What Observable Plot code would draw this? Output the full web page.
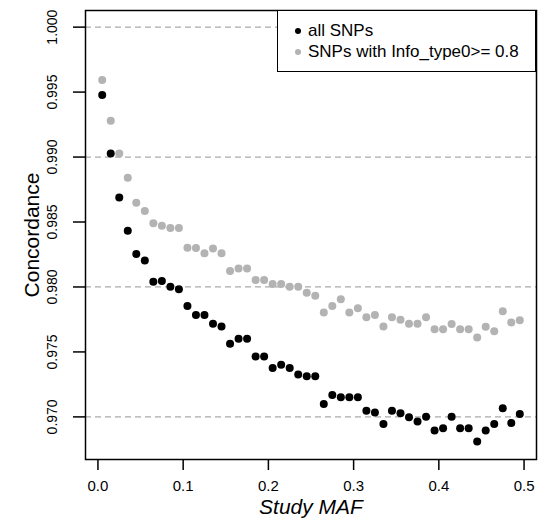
<!DOCTYPE html>
<html>
<head>
<meta charset="utf-8">
<script src="https://cdn.jsdelivr.net/npm/d3@7"></script>
<script src="https://cdn.jsdelivr.net/npm/@observablehq/plot@0.6"></script>
<style>
  body { margin: 0; background: #fff; font-family: "Liberation Sans", Arial, sans-serif; }
  #wrap { position: relative; width: 548px; height: 523px; }
  #legend { position: absolute; left: 277px; top: 10px; width: 259px; height: 62px; box-sizing: border-box;
            border: 1.5px solid #000; background: #fff; font-size: 17px; color: #000; }
  #legend .dot { position: absolute; width: 6px; height: 6px; border-radius: 50%; left: 17px; }
  #legend .lab { position: absolute; left: 30px; line-height: 18px; white-space: nowrap; }
</style>
</head>
<body>
<div id="wrap"><div id="chart"></div><div id="legend"></div></div>
<script>
// Bin centres of Study MAF
const maf = [0.005,0.015,0.025,0.035,0.045,0.055,0.065,0.075,0.085,0.095,
             0.105,0.115,0.125,0.135,0.145,0.155,0.165,0.175,0.185,0.195,
             0.205,0.215,0.225,0.235,0.245,0.255,0.265,0.275,0.285,0.295,
             0.305,0.315,0.325,0.335,0.345,0.355,0.365,0.375,0.385,0.395,
             0.405,0.415,0.425,0.435,0.445,0.455,0.465,0.475,0.485,0.495];
// Concordance, all SNPs
const allSNPs = [0.99477,0.99028,0.98688,0.98433,0.98254,0.98203,0.98041,0.98046,0.98002,0.97982,
                 0.97854,0.97785,0.97785,0.97716,0.97695,0.97563,0.97601,0.97601,0.97465,0.97465,
                 0.97376,0.97402,0.97376,0.97327,0.97312,0.97312,0.97100,0.97169,0.97151,0.97151,
                 0.97151,0.97048,0.97033,0.96946,0.97048,0.97028,0.96998,0.96964,0.97002,0.96895,
                 0.96913,0.97002,0.96913,0.96913,0.96810,0.96895,0.96946,0.97067,0.96952,0.97023];
// Concordance, SNPs with Info_type0 >= 0.8
const infoSNPs = [0.99594,0.99279,0.99028,0.98841,0.98649,0.98584,0.98490,0.98472,0.98454,0.98454,
                  0.98301,0.98299,0.98259,0.98297,0.98259,0.98123,0.98143,0.98143,0.98054,0.98054,
                  0.98023,0.98023,0.98002,0.98002,0.97956,0.97933,0.97803,0.97854,0.97906,0.97803,
                  0.97837,0.97767,0.97785,0.97695,0.97767,0.97747,0.97716,0.97716,0.97767,0.97675,
                  0.97675,0.97714,0.97675,0.97675,0.97612,0.97693,0.97660,0.97813,0.97727,0.97744];
const seriesNames = ["all SNPs", "SNPs with Info_type0>= 0.8"];
const seriesColors = ["#000000", "#b3b3b3"];
const xTicks = [0.0, 0.1, 0.2, 0.3, 0.4, 0.5];
const xTickLabels = ["0.0", "0.1", "0.2", "0.3", "0.4", "0.5"];
const yTicks = [0.970, 0.975, 0.980, 0.985, 0.990, 0.995, 1.000];
const yTickLabels = ["0.970", "0.975", "0.980", "0.985", "0.990", "0.995", "1.000"];
const gridLines = [0.970, 0.980, 0.990, 1.000];
const xTitle = "Study MAF";
const yTitle = "Concordance";

const rows = maf.map((m, i) => ({maf: m, all: allSNPs[i], info: infoSNPs[i]}));
const yTickRows = yTicks.map((v, i) => ({v, label: yTickLabels[i]}));

const chart = Plot.plot({
  width: 548,
  height: 523,
  marginLeft: 85,
  marginRight: 12,
  marginTop: 10,
  marginBottom: 64,
  style: {background: "white", color: "black", fontFamily: "Liberation Sans, Arial, sans-serif"},
  x: {domain: [-0.0146, 0.5146]},
  y: {domain: [0.96672, 1.00128]},
  marks: [
    Plot.ruleY(gridLines, {stroke: "#aaaaaa", strokeWidth: 1.3, strokeDasharray: "6,4"}),
    Plot.dot(rows, {x: "maf", y: "info", r: 4, fill: seriesColors[1], stroke: "none"}),
    Plot.dot(rows, {x: "maf", y: "all", r: 4, fill: seriesColors[0], stroke: "none"}),
    Plot.frame({stroke: "#000", strokeWidth: 1.5}),
    Plot.axisX({ticks: xTicks, tickSize: 11, tickPadding: 10, strokeWidth: 1.5, fontSize: 15,
                tickFormat: (d) => xTickLabels[xTicks.indexOf(d)], label: null}),
    Plot.axisY({ticks: yTicks, tickSize: 12, strokeWidth: 1.5, tickFormat: () => "", label: null}),
    Plot.text(yTickRows, {y: "v", text: "label", frameAnchor: "left", dx: -33, rotate: -90, fontSize: 14,
                          textAnchor: "middle", lineAnchor: "middle"}),
    Plot.text([xTitle], {frameAnchor: "bottom", dy: 48, fontSize: 21, fontStyle: "italic",
                         textAnchor: "middle", lineAnchor: "middle"}),
    Plot.text([yTitle], {frameAnchor: "left", dx: -53, rotate: -90, fontSize: 21,
                         textAnchor: "middle", lineAnchor: "middle"})
  ]
});
document.getElementById("chart").appendChild(chart);

const legend = document.getElementById("legend");
seriesNames.forEach((name, i) => {
  const cy = 20 + i * 21;
  const dot = document.createElement("span");
  dot.className = "dot";
  dot.style.background = seriesColors[i];
  dot.style.top = (cy - 3) + "px";
  legend.appendChild(dot);
  const lab = document.createElement("span");
  lab.className = "lab";
  lab.textContent = name;
  lab.style.top = (cy - 9) + "px";
  legend.appendChild(lab);
});
</script>
</body>
</html>
